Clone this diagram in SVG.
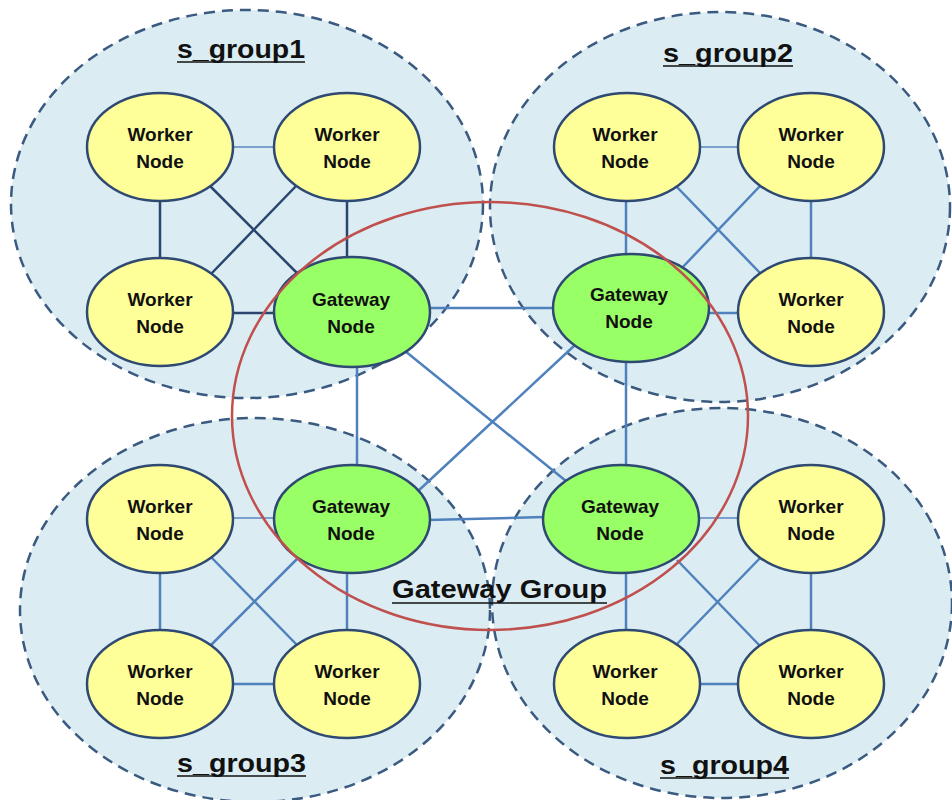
<svg xmlns="http://www.w3.org/2000/svg" width="952" height="800" viewBox="0 0 952 800">
<style>
.grp{fill:#dbedf3;stroke:#3a5a80;stroke-width:2.5;stroke-dasharray:11 7}
.wk{fill:#ffff99;stroke:#2f4a72;stroke-width:2.5}
.gw{fill:#99ff66;stroke:#2f4a72;stroke-width:2.5}
.ln{stroke:#4f81bd;stroke-width:2.5;fill:none}
.dk{stroke:#2a4670;stroke-width:2.5;fill:none}
.th{stroke:#5b86c0;stroke-width:1.5;fill:none}
.nt{font-family:"Liberation Sans",Arial,sans-serif;font-weight:bold;font-size:19px;fill:#111;text-anchor:middle}
.gt{font-family:"Liberation Sans",Arial,sans-serif;font-weight:bold;font-size:26px;fill:#111;text-anchor:middle}
.ul{stroke:#111;stroke-width:1.6}
</style>
<g id="groups">
<ellipse id="s_group1" class="grp" cx="247" cy="204" rx="236" ry="194"/>
<ellipse id="s_group2" class="grp" cx="720" cy="207" rx="230" ry="195"/>
<ellipse id="s_group3" class="grp" cx="255" cy="610" rx="235" ry="192"/>
<ellipse id="s_group4" class="grp" cx="722" cy="603" rx="230" ry="195"/>
</g>
<g id="connectors">
<line class="th" x1="231" y1="147" x2="276" y2="147"/>
<line class="dk" x1="160" y1="199" x2="160" y2="261"/>
<line class="dk" x1="347" y1="199" x2="347" y2="260"/>
<line class="dk" x1="208" y1="184" x2="300" y2="276"/>
<line class="dk" x1="298" y1="184" x2="210" y2="275"/>
<line class="dk" x1="231" y1="313" x2="276" y2="313"/>
<line class="ln" x1="428" y1="308" x2="555" y2="308"/>
<line class="ln" x1="357" y1="364" x2="357" y2="467"/>
<line class="ln" x1="405" y1="351" x2="566" y2="481"/>
<line class="ln" x1="575" y1="345" x2="417" y2="492"/>
<line class="ln" x1="626" y1="360" x2="626" y2="467"/>
<line class="ln" x1="428" y1="520" x2="544" y2="517"/>
<line class="th" x1="698" y1="147" x2="740" y2="147"/>
<line class="ln" x1="626" y1="199" x2="626" y2="256"/>
<line class="ln" x1="811" y1="199" x2="811" y2="261"/>
<line class="ln" x1="675" y1="185" x2="762" y2="275"/>
<line class="ln" x1="761" y1="185" x2="680" y2="270"/>
<line class="ln" x1="707" y1="313" x2="740" y2="313"/>
<line class="th" x1="231" y1="518" x2="276" y2="518"/>
<line class="ln" x1="160" y1="571" x2="160" y2="632"/>
<line class="ln" x1="347" y1="571" x2="347" y2="632"/>
<line class="ln" x1="210" y1="556" x2="298" y2="646"/>
<line class="ln" x1="300" y1="556" x2="210" y2="646"/>
<line class="ln" x1="231" y1="684" x2="276" y2="684"/>
<line class="th" x1="698" y1="518" x2="740" y2="518"/>
<line class="ln" x1="626" y1="571" x2="626" y2="632"/>
<line class="ln" x1="811" y1="571" x2="811" y2="632"/>
<line class="ln" x1="677" y1="560" x2="762" y2="648"/>
<line class="ln" x1="762" y1="556" x2="675" y2="646"/>
<line class="ln" x1="698" y1="684" x2="740" y2="684"/>
</g>
<g id="g1w1"><ellipse class="wk" cx="160" cy="147" rx="73" ry="54"/><text class="nt" x="160" y="141">Worker</text><text class="nt" x="160" y="168">Node</text></g>
<g id="g1w2"><ellipse class="wk" cx="347" cy="147" rx="73" ry="54"/><text class="nt" x="347" y="141">Worker</text><text class="nt" x="347" y="168">Node</text></g>
<g id="g1w3"><ellipse class="wk" cx="160" cy="312" rx="73" ry="54"/><text class="nt" x="160" y="306">Worker</text><text class="nt" x="160" y="333">Node</text></g>
<g id="gw1"><ellipse class="gw" cx="352" cy="312" rx="78" ry="55"/><text class="nt" x="351" y="306">Gateway</text><text class="nt" x="351" y="333">Node</text></g>
<g id="g2w1"><ellipse class="wk" cx="627" cy="147" rx="73" ry="54"/><text class="nt" x="625" y="141">Worker</text><text class="nt" x="625" y="168">Node</text></g>
<g id="g2w2"><ellipse class="wk" cx="811" cy="147" rx="73" ry="54"/><text class="nt" x="811" y="141">Worker</text><text class="nt" x="811" y="168">Node</text></g>
<g id="gw2"><ellipse class="gw" cx="631" cy="308" rx="78" ry="54"/><text class="nt" x="629" y="301">Gateway</text><text class="nt" x="629" y="328">Node</text></g>
<g id="g2w4"><ellipse class="wk" cx="811" cy="312" rx="73" ry="54"/><text class="nt" x="811" y="306">Worker</text><text class="nt" x="811" y="333">Node</text></g>
<g id="g3w1"><ellipse class="wk" cx="160" cy="519" rx="73" ry="54"/><text class="nt" x="160" y="513">Worker</text><text class="nt" x="160" y="540">Node</text></g>
<g id="gw3"><ellipse class="gw" cx="352" cy="519" rx="78" ry="54"/><text class="nt" x="351" y="513">Gateway</text><text class="nt" x="351" y="540">Node</text></g>
<g id="g3w3"><ellipse class="wk" cx="160" cy="684" rx="73" ry="54"/><text class="nt" x="160" y="678">Worker</text><text class="nt" x="160" y="705">Node</text></g>
<g id="g3w4"><ellipse class="wk" cx="347" cy="684" rx="73" ry="54"/><text class="nt" x="347" y="678">Worker</text><text class="nt" x="347" y="705">Node</text></g>
<g id="gw4"><ellipse class="gw" cx="621" cy="519" rx="78" ry="54"/><text class="nt" x="620" y="513">Gateway</text><text class="nt" x="620" y="540">Node</text></g>
<g id="g4w2"><ellipse class="wk" cx="811" cy="519" rx="73" ry="54"/><text class="nt" x="811" y="513">Worker</text><text class="nt" x="811" y="540">Node</text></g>
<g id="g4w3"><ellipse class="wk" cx="627" cy="684" rx="73" ry="54"/><text class="nt" x="625" y="678">Worker</text><text class="nt" x="625" y="705">Node</text></g>
<g id="g4w4"><ellipse class="wk" cx="811" cy="684" rx="73" ry="54"/><text class="nt" x="811" y="678">Worker</text><text class="nt" x="811" y="705">Node</text></g>
<g id="gateway_group">
<ellipse cx="490" cy="416" rx="258" ry="214" fill="none" stroke="#c0504d" stroke-width="2.5"/>
</g>
<g id="labels">
<text class="gt" x="241" y="58" textLength="128" lengthAdjust="spacingAndGlyphs">s_group1</text>
<line class="ul" x1="177" y1="62" x2="305" y2="62"/>
<text class="gt" x="728" y="62" textLength="130" lengthAdjust="spacingAndGlyphs">s_group2</text>
<line class="ul" x1="663" y1="66" x2="793" y2="66"/>
<text class="gt" x="241.5" y="772" textLength="129" lengthAdjust="spacingAndGlyphs">s_group3</text>
<line class="ul" x1="177" y1="776" x2="306" y2="776"/>
<text class="gt" x="724.5" y="774" textLength="129" lengthAdjust="spacingAndGlyphs">s_group4</text>
<line class="ul" x1="660" y1="778" x2="789" y2="778"/>
<text class="gt" x="499.5" y="598" textLength="215" lengthAdjust="spacingAndGlyphs">Gateway Group</text>
<line class="ul" x1="392" y1="603" x2="607" y2="603"/>
</g>
</svg>
